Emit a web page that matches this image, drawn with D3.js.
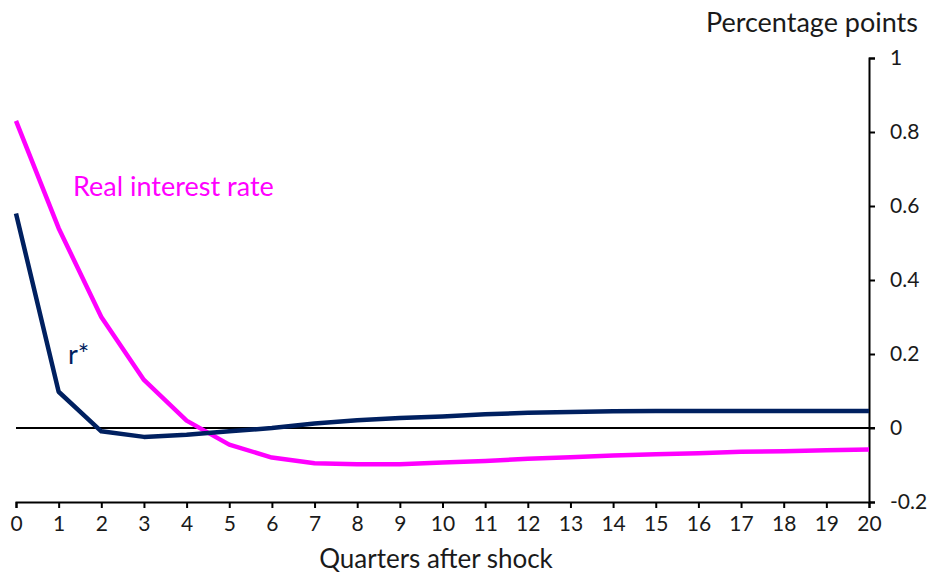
<!DOCTYPE html>
<html><head><meta charset="utf-8">
<script src="https://cdn.jsdelivr.net/npm/d3@7/dist/d3.min.js"></script>
<style>body{margin:0;background:#fff}svg{display:block;font-family:Lato,"Noto Sans",sans-serif}</style>
</head><body><svg id="c" width="931" height="573"></svg>
<script>
const quarters = d3.range(0, 21);
const realRate = [0.83, 0.54, 0.30, 0.13, 0.02, -0.045, -0.08, -0.095, -0.098, -0.098, -0.093, -0.089, -0.083, -0.079, -0.074, -0.071, -0.068, -0.064, -0.063, -0.06, -0.058];
const rStar = [0.58, 0.098, -0.009, -0.024, -0.018, -0.009, 0.0, 0.012, 0.021, 0.027, 0.031, 0.037, 0.041, 0.043, 0.045, 0.046, 0.046, 0.046, 0.046, 0.046, 0.046];
const yTicks = [-0.2, 0, 0.2, 0.4, 0.6, 0.8, 1];

const svg = d3.select("#c");
const x = d3.scaleLinear().domain([0, 20]).range([16, 869]);
const y = d3.scaleLinear().domain([-0.2, 1]).range([502, 58]);

// zero line
svg.append("line").attr("x1", x(0)).attr("x2", x(20) + 6).attr("y1", y(0)).attr("y2", y(0))
  .attr("stroke", "#000").attr("stroke-width", 2);

// x axis
const xa = svg.append("g").attr("transform", `translate(0,${y(-0.2)})`)
  .call(d3.axisBottom(x).tickValues(quarters).tickFormat(d3.format("d")).tickSize(6).tickPadding(8));
// y axis
const ya = svg.append("g").attr("transform", `translate(${x(20)},0)`)
  .call(d3.axisRight(y).tickValues(yTicks).tickFormat(d => String(d)).tickSize(6).tickPadding(15));
[xa, ya].forEach(a => {
  a.select(".domain").attr("stroke", "#000").attr("stroke-width", 2);
  a.selectAll(".tick line").attr("stroke", "#000").attr("stroke-width", 2);
  a.selectAll("text").attr("fill", "#1a1a1a").style("font-size", "21px").style("font-family", "Lato, sans-serif");
});

const line = d3.line().x((d, i) => x(quarters[i])).y(d => y(d));
svg.append("path").datum(realRate).attr("d", line).attr("fill", "none")
  .attr("stroke", "#FF00FF").attr("stroke-width", 4.5).attr("stroke-linejoin", "round");
svg.append("path").datum(rStar).attr("d", line).attr("fill", "none")
  .attr("stroke", "#002060").attr("stroke-width", 4.5).attr("stroke-linejoin", "round");

svg.append("text").attr("x", 73).attr("y", 196).attr("fill", "#FF00FF").style("font-size", "27px").text("Real interest rate");
svg.append("text").attr("x", 68).attr("y", 364).attr("fill", "#002060").style("font-size", "27px").text("r*");
svg.append("text").attr("x", 918).attr("y", 32).attr("text-anchor", "end").attr("fill", "#1a1a1a").style("font-size", "27px").text("Percentage points");
svg.append("text").attr("x", 436).attr("y", 568).attr("text-anchor", "middle").attr("fill", "#1a1a1a").style("font-size", "26px").text("Quarters after shock");
</script></body></html>
